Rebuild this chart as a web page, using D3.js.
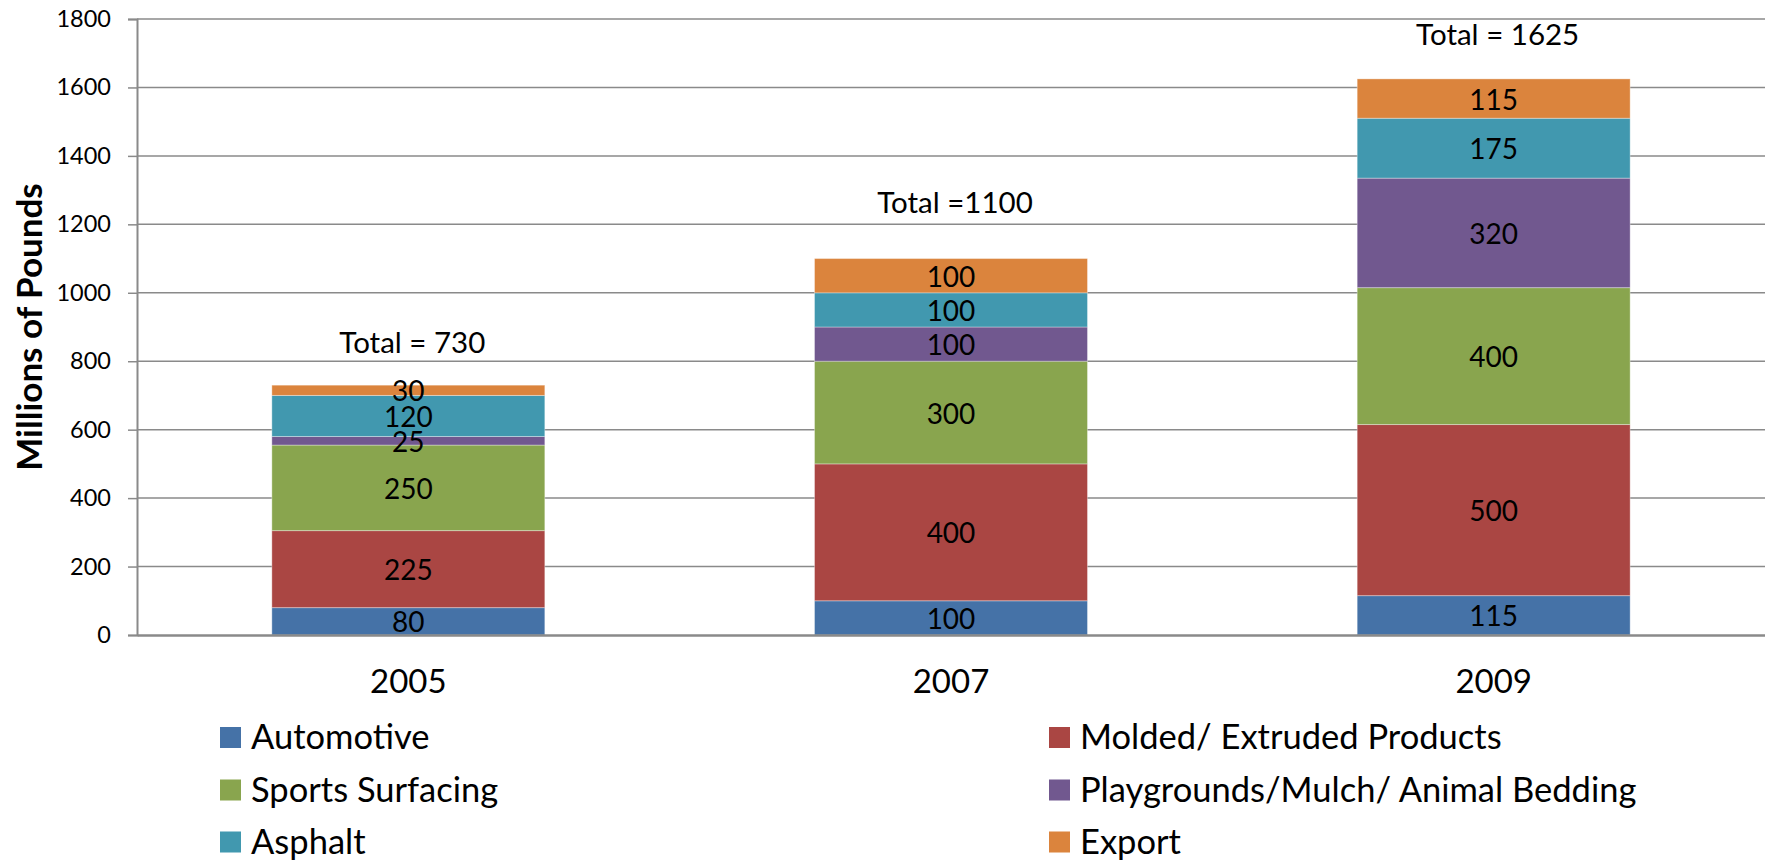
<!DOCTYPE html>
<html>
<head>
<meta charset="utf-8">
<script src="https://cdn.jsdelivr.net/npm/d3@7"></script>
<style>
  html, body { margin: 0; padding: 0; background: #fff; }
  svg { display: block; }
  text { font-family: Lato, "Open Sans", sans-serif; fill: #000; }
</style>
</head>
<body>
<svg id="chart" width="1765" height="861"></svg>
<script>
// ---- data ----
const years = ["2005", "2007", "2009"];
const seriesNames = ["Automotive", "Molded/ Extruded Products", "Sports Surfacing",
                     "Playgrounds/Mulch/ Animal Bedding", "Asphalt", "Export"];
const automotive  = [80, 100, 115];
const molded      = [225, 400, 500];
const sports      = [250, 300, 400];
const playgrounds = [25, 100, 320];
const asphalt     = [120, 100, 175];
const exportVals  = [30, 100, 115];
const totalLabels = ["Total = 730", "Total =1100", "Total = 1625"];
const totalLabelAnchor = [825, 1233, 1724]; // value-axis position of the "Total" annotations
const yTicks = [0, 200, 400, 600, 800, 1000, 1200, 1400, 1600, 1800];
const colors = ["#4572A7", "#AA4643", "#89A54E", "#71588F", "#4198AF", "#DB843D"];
const yTitle = "Millions of Pounds";

// legend layout order (two columns, three rows)
const legendOrder = [
  ["Automotive", "Molded/ Extruded Products"],
  ["Sports Surfacing", "Playgrounds/Mulch/ Animal Bedding"],
  ["Asphalt", "Export"]
];

(function () {
// ---- build table ----
const valuesBySeries = [automotive, molded, sports, playgrounds, asphalt, exportVals];
const table = years.map((yr, i) => {
  const row = { year: yr };
  seriesNames.forEach((s, k) => row[s] = valuesBySeries[k][i]);
  return row;
});

const svg = d3.select("#chart");
const mLeft = 137, mRight = 1765, mTop = 19, mBottom = 635;

const x = d3.scaleBand().domain(years).range([mLeft, mRight]).paddingInner(0.497).paddingOuter(0.2485);
const y = d3.scaleLinear().domain([0, 1800]).range([mBottom, mTop]);
const color = d3.scaleOrdinal().domain(seriesNames).range(colors);

// gridlines
svg.append("g").selectAll("line").data(yTicks.filter(t => t > 0)).join("line")
  .attr("x1", mLeft).attr("x2", mRight)
  .attr("y1", d => y(d)).attr("y2", d => y(d))
  .attr("stroke", "#8a8a8a").attr("stroke-width", 1.5);

// y axis
const yAxis = d3.axisLeft(y).tickValues(yTicks).tickSize(9).tickPadding(17).tickFormat(d3.format("d"));
const gy = svg.append("g").attr("transform", `translate(${mLeft},0)`).call(yAxis);
gy.select(".domain").attr("stroke", "#8a8a8a").attr("stroke-width", 2);
gy.selectAll(".tick line").attr("stroke", "#8a8a8a").attr("stroke-width", 1.5);
gy.selectAll(".tick text").style("font-family", "Lato").style("font-size", "23.5px").attr("fill", "#000");

// stacked bars
const stack = d3.stack().keys(seriesNames);
const layers = stack(table);

const gBars = svg.append("g");
layers.forEach(layer => {
  const g = gBars.append("g").attr("fill", color(layer.key));
  g.selectAll("rect").data(layer).join("rect")
    .attr("x", d => x(d.data.year))
    .attr("width", x.bandwidth())
    .attr("y", d => y(d[1]))
    .attr("height", d => y(d[0]) - y(d[1]))
    .attr("stroke", "rgba(255,255,255,0.35)")
    .attr("stroke-width", 1);
});

// x axis line
const xAxis = d3.axisBottom(x).tickSize(0).tickPadding(35);
const gx = svg.append("g").attr("transform", `translate(0,${mBottom})`).call(xAxis);
gx.select(".domain").attr("stroke", "#8a8a8a").attr("stroke-width", 2.5);
gx.selectAll(".tick text").style("font-family", "Lato").style("font-size", "33px").attr("fill", "#000");

// segment labels
layers.forEach(layer => {
  svg.append("g").selectAll("text").data(layer).join("text")
    .attr("x", d => x(d.data.year) + x.bandwidth() / 2)
    .attr("y", d => (y(d[0]) + y(d[1])) / 2)
    .attr("text-anchor", "middle")
    .attr("dominant-baseline", "central")
    .style("font-size", "28px")
    .text(d => d[1] - d[0]);
});

// total annotations
svg.append("g").selectAll("text").data(years).join("text")
  .attr("x", (d, i) => x(d) + x.bandwidth() / 2 + 4)
  .attr("y", (d, i) => y(totalLabelAnchor[i]))
  .attr("text-anchor", "middle")
  .style("font-size", "29.5px")
  .text((d, i) => totalLabels[i]);

// y title
svg.append("text")
  .attr("transform", `translate(42,${(mTop + mBottom) / 2}) rotate(-90)`)
  .attr("text-anchor", "middle")
  .style("font-size", "35px")
  .style("font-weight", "bold")
  .text(yTitle);

// legend
const colX = [220, 1049];
const rowY = [749, 801.5, 853.5];
legendOrder.forEach((row, r) => {
  row.forEach((name, c) => {
    const g = svg.append("g");
    g.append("rect")
      .attr("x", colX[c]).attr("y", rowY[r] - 22)
      .attr("width", 21).attr("height", 21)
      .attr("fill", color(name));
    g.append("text")
      .attr("x", colX[c] + 31).attr("y", rowY[r])
      .style("font-size", "34.5px")
      .text(name);
  });
});
})();
</script>
</body>
</html>
